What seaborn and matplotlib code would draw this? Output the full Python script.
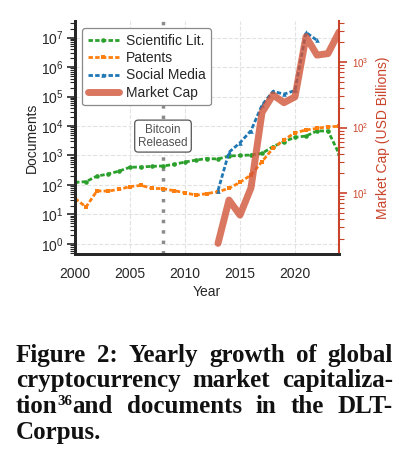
import matplotlib
matplotlib.use("Agg")
import matplotlib.pyplot as plt
import matplotlib.ticker as mticker
from matplotlib.lines import Line2D
from matplotlib.transforms import IdentityTransform
import pandas as pd
import seaborn as sns

# ===== DATA =====
years_docs = list(range(2000, 2025))
scientific_lit = [123, 130, 200, 235, 295, 400, 405, 430, 440, 500, 600, 700, 790,
                  760, 960, 1000, 1040, 1180, 2000, 2950, 4150, 4560, 6800, 6800, 1150]
patents = [35, 18, 63, 62, 71, 88, 97, 77, 75, 64, 55, 45, 51,
           59, 77, 123, 218, 620, 1750, 3400, 5900, 7300, 8300, 9500, 9700]
years_social = list(range(2013, 2023))
social_media = [65, 1290, 2700, 7000, 51000, 150000, 120000, 160000, 15000000, 8000000]
years_cap = list(range(2013, 2025))
market_cap = [1.7, 7.8, 4.6, 12, 170, 315, 240, 295, 2450, 1280, 1350, 2880]

caption_lines = [
    "Figure 2: Yearly growth of global",
    "cryptocurrency market capitaliza-",
    "tion^36and documents in the DLT-",
    "Corpus.",
]

# ===== STYLE =====
sns.set_theme(style="whitegrid")
plt.rcParams["font.family"] = ["Liberation Sans", "DejaVu Sans"]
plt.rcParams["mathtext.default"] = "regular"

W, H = 413, 473
fig = plt.figure(figsize=(W / 100, H / 100), dpi=100)
fig.patch.set_facecolor("white")
ax = fig.add_axes([75 / W, 1 - 254 / H, (339 - 75) / W, (254 - 21) / H])
ax2 = ax.twinx()

sci_color = "#2ca02c"
pat_color = "#ff7f0e"
soc_color = "#1f77b4"
cap_color = "#d1553a"
axis_red = "#c9432a"

df_docs = pd.DataFrame({"year": years_docs, "sci": scientific_lit, "pat": patents})
df_soc = pd.DataFrame({"year": years_social, "soc": social_media})
df_cap = pd.DataFrame({"year": years_cap, "cap": market_cap})

dash = (0, (1.6, 0.8))
line_kw = dict(linewidth=2.0, markersize=3.3, markeredgewidth=0)
sns.lineplot(data=df_docs, x="year", y="sci", ax=ax, color=sci_color,
             linestyle=dash, marker="o", **line_kw)
sns.lineplot(data=df_docs, x="year", y="pat", ax=ax, color=pat_color,
             linestyle=dash, marker="s", **line_kw)
sns.lineplot(data=df_soc, x="year", y="soc", ax=ax, color=soc_color,
             linestyle=dash, marker="^", **line_kw)
sns.lineplot(data=df_cap, x="year", y="cap", ax=ax2, color=cap_color,
             linewidth=5, alpha=0.8, solid_capstyle="round", solid_joinstyle="round")

# Bitcoin release marker
ax.axvline(2008, color="#8c8c8c", linestyle=(0, (1, 2)), linewidth=2.5, zorder=1)
ax2.text(2008, 0.506, "Bitcoin\nReleased", transform=ax2.get_xaxis_transform(),
         ha="center", va="center", fontsize=8.5, color="#505050", linespacing=1.1,
         bbox=dict(boxstyle="round,pad=0.3", facecolor="white", edgecolor="#555555",
                   linewidth=0.9), zorder=5)

# Axes
ax.set_yscale("log")
ax2.set_yscale("log")
ax.set_xlim(2000, 2024)
ax.set_ylim(10 ** -0.34, 10 ** 7.56)
ax2.set_ylim(1.17, 4250)
ax.set_xticks([2000, 2005, 2010, 2015, 2020])
ax.yaxis.set_major_locator(mticker.LogLocator(base=10, numticks=20))
ax.yaxis.set_minor_locator(mticker.LogLocator(base=10, subs=range(2, 10), numticks=20))
ax.yaxis.set_minor_formatter(mticker.NullFormatter())
ax2.yaxis.set_minor_formatter(mticker.NullFormatter())

ax.grid(True, which="major", linestyle="--", color="#e2e2e2", linewidth=0.8)
ax.grid(False, which="minor")
ax2.grid(False)

ax.set_xlabel("Year", fontsize=10, color="#262626", labelpad=3)
ax.set_ylabel("Documents", fontsize=10, color="#262626", labelpad=2)
ax2.set_ylabel("Market Cap (USD Billions)", fontsize=10, color=axis_red, labelpad=6)

ax.tick_params(axis="x", labelsize=10, colors="#262626", length=0, pad=9)
ax.tick_params(axis="y", which="major", left=True, length=6, width=1.2,
               labelsize=10, colors="#262626", pad=2)
ax.tick_params(axis="y", which="minor", left=True, length=3.5, width=0.8, colors="#262626")
ax2.tick_params(axis="y", which="major", right=True, length=6, width=1.2,
                labelsize=7, colors=axis_red, pad=3)
ax2.tick_params(axis="y", which="minor", right=True, length=3.5, width=0.8, colors=axis_red)

for a in (ax, ax2):
    a.spines["top"].set_visible(False)
    a.spines["left"].set_color("#262626")
    a.spines["left"].set_linewidth(2)
    a.spines["bottom"].set_color("#262626")
    a.spines["bottom"].set_linewidth(2)
    a.spines["right"].set_color(axis_red)
    a.spines["right"].set_linewidth(1.5)
ax.spines["right"].set_visible(False)

# Legend
handles = [
    Line2D([], [], color=sci_color, linestyle=dash, marker="o", **line_kw),
    Line2D([], [], color=pat_color, linestyle=dash, marker="s", **line_kw),
    Line2D([], [], color=soc_color, linestyle=dash, marker="^", **line_kw),
    Line2D([], [], color=cap_color, linewidth=5, alpha=0.8, solid_capstyle="round"),
]
labels = ["Scientific Lit.", "Patents", "Social Media", "Market Cap"]
leg = ax2.legend(handles, labels, loc="upper left", fontsize=10, frameon=True,
                 fancybox=True, handlelength=2.3, handletextpad=0.45, labelspacing=0.25,
                 borderpad=0.4, borderaxespad=0.5)
leg.get_frame().set_edgecolor("#8a8a8a")
leg.get_frame().set_linewidth(0.9)
leg.get_frame().set_alpha(1)
for t in leg.get_texts():
    t.set_color("#262626")
leg.set_zorder(10)

# ===== CAPTION (justified, pixel coordinates) =====
cap_font = dict(family=["Liberation Serif", "DejaVu Serif"], weight="bold", color="#111111")
cap_size = 18
x_left, x_right = 16, 393
baselines = [362, 387, 413, 439]
renderer = fig.canvas.get_renderer()


def make_word(word, x, y):
    """Return list of text pieces for a word, with '^' marking a superscript."""
    pieces = []
    if "^" in word:
        pre, rest = word.split("^")
        frags = [(pre, cap_size, 0), (rest[:2], cap_size * 0.6, 8), (rest[2:], cap_size, 0)]
    else:
        frags = [(word, cap_size, 0)]
    for txt, size, dy in frags:
        t = fig.text(x, y + dy, txt, transform=IdentityTransform(), fontsize=size,
                     va="baseline", ha="left", **cap_font)
        pieces.append(t)
    return pieces


def word_width(pieces):
    return sum(p.get_window_extent(renderer).width for p in pieces)


for i, line in enumerate(caption_lines):
    y = H - baselines[i]
    words = [make_word(w, 0, y) for w in line.split(" ")]
    widths = [word_width(p) for p in words]
    last = i == len(caption_lines) - 1
    if last or len(words) == 1:
        gap = cap_size * 0.3
    else:
        gap = (x_right - x_left - sum(widths)) / (len(words) - 1)
    x = x_left
    for pieces, w in zip(words, widths):
        px = x
        for p in pieces:
            p.set_x(px)
            px += p.get_window_extent(renderer).width
        x += w + gap

fig.savefig("out.png", dpi=100)
